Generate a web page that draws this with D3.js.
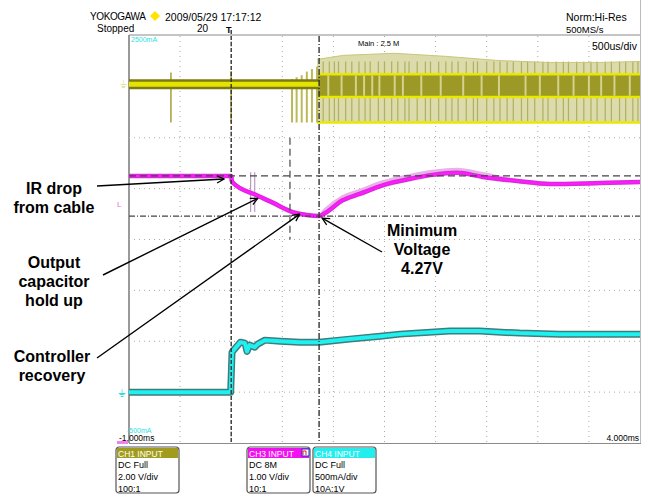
<!DOCTYPE html>
<html>
<head>
<meta charset="utf-8">
<script src="https://cdn.jsdelivr.net/npm/d3@7/dist/d3.min.js"></script>
<style>
body{margin:0;background:#fff;}
svg{display:block;font-family:"Liberation Sans",Arial,sans-serif;}
</style>
</head>
<body>
<svg id="chart" width="645" height="495"></svg>
<script>
// values (time in ms, volts, mA)
var ch1QuietTime = [-1, 0.57];
var ch1SpikeTime = [-0.59, 0.0];
var ch1SpikeHi = [0.47, 0.52];
var ch1SpikeLo = [-1.5, -1.5];
var ch1PulseTime = [0.595, 0.64, 0.69, 0.74, 0.79, 0.84];
var ch1PulseHi = [0.2, 0.28, 0.36, 0.5, 0.6, 0.7];
var ch1BurstTime = [0.84, 1.1, 1.6, 2.1, 2.6, 3.1, 3.6, 4.0];
var ch1BurstTop = [0.98, 1.14, 1.22, 1.10, 0.94, 0.86, 0.86, 0.9];
var ch1BurstLow = [-1.5, -1.5, -1.5, -1.5, -1.5, -1.5, -1.5, -1.5];
var ch1CoreTop = [0.4, 0.4, 0.4, 0.4, 0.4, 0.4, 0.4, 0.4];
var ch1CoreLow = [-0.5, -0.5, -0.5, -0.5, -0.5, -0.5, -0.5, -0.5];
var ch1DarkStripes = [0.9, 0.96, 1.01, 1.05, 1.12, 1.18, 1.25, 1.31, 1.36, 1.44, 1.5, 1.57, 1.63, 1.7, 1.74, 1.82, 1.9, 1.95, 2.03, 2.1, 2.16, 2.22, 2.3, 2.37, 2.41, 2.5, 2.57, 2.63, 2.7, 2.76, 2.84, 2.9, 2.97, 3.05, 3.1, 3.18, 3.25, 3.3, 3.38, 3.45, 3.52, 3.58, 3.66, 3.72, 3.8, 3.86, 3.93, 3.98];
var ch1LightStripes = [0.95, 1.08, 1.22, 1.3, 1.38, 1.45, 1.6, 1.68, 1.86, 2.05, 2.27, 2.45, 2.62, 2.88, 3.02, 3.2, 3.35, 3.5, 3.62, 3.75, 3.9];

var ch3Time = [-1, -0.5, 0, 0.006, 0.02, 0.25, 0.41, 0.6, 0.74, 0.86, 0.92, 1.09, 1.25, 1.49, 1.75, 1.97, 2.21, 2.46, 2.8, 3.12, 3.61, 4.0];
var ch3Volt = [5.06, 5.06, 5.06, 4.96, 4.92, 4.68, 4.53, 4.35, 4.29, 4.27, 4.33, 4.58, 4.70, 4.88, 5.0, 5.08, 5.12, 5.04, 4.96, 4.90, 4.92, 4.94];
var ch3GlitchTime = [0.19, 0.23];

var ch4Time = [-1, -0.5, -0.005, 0.008, 0.04, 0.09, 0.135, 0.155, 0.18, 0.23, 0.26, 0.33, 0.48, 0.67, 0.86, 1.16, 1.46, 1.65, 2.14, 2.43, 2.82, 3.21, 3.6, 4.0];
var ch4Milli = [0, 0, 0, 393, 432, 491, 481, 400, 462, 442, 472, 511, 501, 491, 491, 521, 550, 570, 600, 600, 580, 570, 570, 570];

var cursorTime = [0, 0.86];
var cursorVolt = [5.06, 4.27];
var xTickLabels = ["-1.000ms", "4.000ms"];

var boxTitles = ["CH1 INPUT", "CH3 INPUT", "CH4 INPUT"];
var boxCoupling = ["DC Full", "DC 8M", "DC Full"];
var boxScale = ["2.00 V/div", "1.00 V/div", "500mA/div"];
var boxProbe = ["100:1", "10:1", "10A:1V"];

var svg = d3.select("#chart");
var pL = 129, pR = 640, pT = 36, pB = 443;

var x = d3.scaleLinear().domain([-1, 4]).range([pL, pR]);
var yDiv = d3.scaleLinear().domain([-4, 4]).range([pB, pT]);
var y1 = d3.scaleLinear().domain([-14.1, 1.9]).range([pB, pT]);
var y3 = d3.scaleLinear().domain([-0.19, 7.81]).range([pB, pT]);
var y4 = d3.scaleLinear().domain([-500, 3500]).range([pB, pT]);

var defs = svg.append("defs");
defs.append("marker").attr("id", "arr").attr("viewBox", "0 0 10 10")
  .attr("refX", 9).attr("refY", 5).attr("markerWidth", 9).attr("markerHeight", 9)
  .attr("markerUnits", "userSpaceOnUse").attr("orient", "auto")
  .append("path").attr("d", "M1,1 L9,5 L1,9").attr("fill", "none")
  .attr("stroke", "#000").attr("stroke-width", 1.4);
defs.append("clipPath").attr("id", "plot").append("rect")
  .attr("x", pL).attr("y", pT).attr("width", pR - pL).attr("height", pB - pT);

// frame
svg.append("line").attr("x1", pL).attr("x2", pR + 1).attr("y1", 35).attr("y2", 35).attr("stroke", "#8a8a8a");
svg.append("line").attr("x1", pL).attr("x2", pR + 1).attr("y1", pB + 0.5).attr("y2", pB + 0.5).attr("stroke", "#8a8a8a");
svg.append("line").attr("x1", pR + 0.5).attr("x2", pR + 0.5).attr("y1", 0).attr("y2", pB).attr("stroke", "#bbb");
svg.append("line").attr("x1", pL).attr("x2", pL).attr("y1", 35).attr("y2", pB).attr("stroke", "#999").attr("stroke-width", 2);

// grid
var grid = svg.append("g");
grid.selectAll(".gv").data(d3.range(-0.5, 4, 0.5)).enter().append("line")
  .attr("x1", function(d){ return x(d); }).attr("x2", function(d){ return x(d); })
  .attr("y1", pT).attr("y2", pB)
  .attr("stroke", "#aaa").attr("stroke-dasharray", "1,4");
grid.selectAll(".gh").data(d3.range(-3, 4, 1)).enter().append("line")
  .attr("x1", pL).attr("x2", pR)
  .attr("y1", function(d){ return yDiv(d); }).attr("y2", function(d){ return yDiv(d); })
  .attr("stroke", "#aaa").attr("stroke-dasharray", "1,4");

var plot = svg.append("g").attr("clip-path", "url(#plot)");

// CH1 (yellow)
var burst = ch1BurstTime.map(function(t, i){
  return {t: t, top: ch1BurstTop[i], low: ch1BurstLow[i], ct: ch1CoreTop[i], cl: ch1CoreLow[i]};
});
plot.append("path").datum(burst)
  .attr("d", d3.area().x(function(d){ return x(d.t); }).y0(function(d){ return y1(d.low); }).y1(function(d){ return y1(d.top); }))
  .attr("fill", "#dcdbab");
plot.selectAll(".ds").data(ch1DarkStripes).enter().append("line")
  .attr("x1", function(d){ return x(d); }).attr("x2", function(d){ return x(d); })
  .attr("y1", y1(0.9)).attr("y2", y1(-1.45))
  .attr("stroke", "#a3a148").attr("stroke-width", 1.2).attr("opacity", 0.75);
plot.append("path").datum(burst)
  .attr("d", d3.area().x(function(d){ return x(d.t); }).y0(function(d){ return y1(d.cl); }).y1(function(d){ return y1(d.ct); }))
  .attr("fill", "#9c9926");
plot.selectAll(".ls").data(ch1LightStripes).enter().append("line")
  .attr("x1", function(d){ return x(d); }).attr("x2", function(d){ return x(d); })
  .attr("y1", y1(0.35)).attr("y2", y1(-0.45))
  .attr("stroke", "#d4d28c").attr("stroke-width", 2);
[ch1CoreTop, ch1CoreLow, ch1BurstLow].forEach(function(arr){
  plot.append("path").datum(burst.map(function(d, i){ return [d.t, arr[i]]; }))
    .attr("d", d3.line().x(function(d){ return x(d[0]); }).y(function(d){ return y1(d[1]); }))
    .attr("fill", "none").attr("stroke", "#e8e800").attr("stroke-width", 2.5);
});
plot.append("path").datum(burst)
  .attr("d", d3.line().x(function(d){ return x(d.t); }).y(function(d){ return y1(d.top); }))
  .attr("fill", "none").attr("stroke", "#c9c77a").attr("stroke-width", 1);
plot.selectAll(".pu").data(ch1PulseTime).enter().append("line")
  .attr("x1", function(d){ return x(d); }).attr("x2", function(d){ return x(d); })
  .attr("y1", function(d, i){ return y1(ch1PulseHi[i]); }).attr("y2", y1(-1.5))
  .attr("stroke", "#bcba58").attr("stroke-width", 2);
plot.selectAll(".sp").data(ch1SpikeTime).enter().append("line")
  .attr("x1", function(d){ return x(d); }).attr("x2", function(d){ return x(d); })
  .attr("y1", function(d, i){ return y1(ch1SpikeHi[i]); }).attr("y2", function(d, i){ return y1(ch1SpikeLo[i]); })
  .attr("stroke", "#a9a740").attr("stroke-width", 1.6);
var quiet = d3.line().x(function(d){ return x(d); }).y(y1(0));
plot.append("path").attr("d", quiet(ch1QuietTime.concat([0.86])))
  .attr("stroke", "#7c7a12").attr("stroke-width", 10).attr("fill", "none");
plot.append("path").attr("d", quiet(ch1QuietTime.concat([0.86])))
  .attr("stroke", "#e4e400").attr("stroke-width", 5).attr("fill", "none");

// CH4 (cyan)
var ch4 = d3.line().x(function(d, i){ return x(ch4Time[i]); }).y(function(d){ return y4(d); });
plot.append("path").attr("d", ch4(ch4Milli)).attr("fill", "none")
  .attr("stroke", "#3f7c7c").attr("stroke-width", 7).attr("stroke-linejoin", "round");
plot.append("path").attr("d", ch4(ch4Milli)).attr("fill", "none")
  .attr("stroke", "#1ff0f0").attr("stroke-width", 4).attr("stroke-linejoin", "round");

// CH3 (magenta)
var ch3 = d3.line().x(function(d, i){ return x(ch3Time[i]); }).y(function(d){ return y3(d); }).curve(d3.curveMonotoneX);
plot.selectAll(".gl").data(ch3GlitchTime).enter().append("line")
  .attr("x1", function(d){ return x(d); }).attr("x2", function(d){ return x(d); })
  .attr("y1", y3(5.13)).attr("y2", y3(4.35))
  .attr("stroke", "#b79cc0").attr("stroke-width", 1.2);
var noisy = ch3Volt.map(function(v, i){ return (ch3Time[i] > 0.9 && ch3Time[i] < 2.5) ? v + 0.06 : v; });
plot.append("path").attr("d", ch3(noisy)).attr("fill", "none")
  .attr("stroke", "#eab0ea").attr("stroke-width", 4);
plot.append("path").attr("d", ch3(ch3Volt)).attr("fill", "none")
  .attr("stroke", "#d82ad8").attr("stroke-width", 4.5);
plot.append("path").attr("d", ch3(ch3Volt)).attr("fill", "none")
  .attr("stroke", "#ff1aff").attr("stroke-width", 2.2);

// cursors
plot.append("line").attr("x1", pL).attr("x2", pR).attr("y1", y3(cursorVolt[0])).attr("y2", y3(cursorVolt[0]))
  .attr("stroke", "#444").attr("stroke-width", 1.3).attr("stroke-dasharray", "7,4");
plot.append("line").attr("x1", pL).attr("x2", pR).attr("y1", y3(cursorVolt[1])).attr("y2", y3(cursorVolt[1]))
  .attr("stroke", "#444").attr("stroke-width", 1.3).attr("stroke-dasharray", "6,2,1,2");
svg.append("line").attr("x1", x(cursorTime[0])).attr("x2", x(cursorTime[0])).attr("y1", 30).attr("y2", pB)
  .attr("stroke", "#333").attr("stroke-width", 1.4).attr("stroke-dasharray", "4,2");
svg.append("line").attr("x1", x(cursorTime[1])).attr("x2", x(cursorTime[1])).attr("y1", pT).attr("y2", pB)
  .attr("stroke", "#333").attr("stroke-width", 1.4).attr("stroke-dasharray", "6,2,1,2");
svg.append("line").attr("x1", x(0.575)).attr("x2", x(0.575)).attr("y1", yDiv(2)).attr("y2", yDiv(0))
  .attr("stroke", "#555").attr("stroke-width", 1.3).attr("stroke-dasharray", "7,4");

// channel markers on the left
svg.append("text").attr("x", 120).attr("y", y1(0) + 4).attr("font-size", 10).attr("fill", "#e4e49a").text("⏚");
svg.append("text").attr("x", 117).attr("y", y3(4.27) - 9).attr("font-size", 8).attr("fill", "#e070e0").text("L");
svg.append("text").attr("x", 118).attr("y", y4(0) + 5).attr("font-size", 11).attr("fill", "#33dddd").text("⏚");
svg.append("rect").attr("x", 117).attr("y", pB - 2).attr("width", 11).attr("height", 3).attr("fill", "#f080f0");

// scope header
svg.append("text").attr("x", 90).attr("y", 20).attr("font-size", 10).attr("letter-spacing", -0.4).text("YOKOGAWA");
svg.append("path").attr("d", "M155,11 L160,16 L155,21 L150,16 Z").attr("fill", "#ffe400");
svg.append("text").attr("x", 165).attr("y", 21).attr("font-size", 10.5).text("2009/05/29 17:17:12");
svg.append("text").attr("x", 97).attr("y", 32).attr("font-size", 10).text("Stopped");
svg.append("text").attr("x", 197).attr("y", 32).attr("font-size", 10).text("20");
svg.append("text").attr("x", 226).attr("y", 33).attr("font-size", 9).attr("font-weight", "bold").text("T");
svg.append("text").attr("x", 566).attr("y", 21).attr("font-size", 10.5).text("Norm:Hi-Res");
svg.append("text").attr("x", 566).attr("y", 33).attr("font-size", 9.5).text("500MS/s");
svg.append("text").attr("x", 358).attr("y", 46).attr("font-size", 7.5).text("Main : 2.5 M");
svg.append("text").attr("x", 592).attr("y", 50).attr("font-size", 10.5).text("500us/div");
svg.append("text").attr("x", 131).attr("y", 42).attr("font-size", 7).attr("fill", "#2de0e0").text("2500mA");
svg.append("text").attr("x", 127).attr("y", 433).attr("font-size", 7).attr("fill", "#2de0e0").text("-500mA");
svg.append("text").attr("x", 119).attr("y", 441).attr("font-size", 8.5).text(xTickLabels[0]);
svg.append("text").attr("x", 639).attr("y", 441).attr("font-size", 8.5).attr("text-anchor", "end").text(xTickLabels[1]);

// channel boxes
var boxX = [116, 247, 313];
var boxFill = ["#a29c1e", "#f010f0", "#22eeee"];
var boxes = svg.selectAll(".box").data(boxTitles).enter().append("g")
  .attr("transform", function(d, i){ return "translate(" + boxX[i] + ",447)"; });
boxes.append("rect").attr("width", 63).attr("height", 46).attr("rx", 3)
  .attr("fill", "#fff").attr("stroke", "#555").attr("stroke-width", 1.2);
boxes.append("rect").attr("x", 1).attr("y", 1).attr("width", 61).attr("height", 10)
  .attr("fill", function(d, i){ return boxFill[i]; });
boxes.append("text").attr("x", 2).attr("y", 9.5).attr("font-size", 8.5).attr("fill", "#fff").text(function(d){ return d; });
boxes.append("text").attr("x", 2).attr("y", 21).attr("font-size", 9).text(function(d, i){ return boxCoupling[i]; });
boxes.append("text").attr("x", 2).attr("y", 33).attr("font-size", 9).text(function(d, i){ return boxScale[i]; });
boxes.append("text").attr("x", 2).attr("y", 44.5).attr("font-size", 9).text(function(d, i){ return boxProbe[i]; });
svg.append("rect").attr("x", 302).attr("y", 449).attr("width", 7).attr("height", 7).attr("fill", "#fff").attr("stroke", "#2233cc");
svg.append("path").attr("d", "M303,455 L303,451 L306,451 L306,455").attr("fill", "none").attr("stroke", "#dd2222");

// annotations
var note = svg.append("g").attr("font-size", 16).attr("font-weight", "bold").attr("text-anchor", "middle");
function label(lines, cx, y0){
  lines.forEach(function(s, i){ note.append("text").attr("x", cx).attr("y", y0 + i * 19).text(s); });
}
label(["IR drop", "from cable"], 54, 194);
label(["Output", "capacitor", "hold up"], 54, 268);
label(["Controller", "recovery"], 52, 362);
label(["Minimum", "Voltage", "4.27V"], 422, 236);

function arrow(x0, y0, tx, ty){
  svg.append("line").attr("x1", x0).attr("y1", y0).attr("x2", tx).attr("y2", ty)
    .attr("stroke", "#000").attr("stroke-width", 1.4).attr("marker-end", "url(#arr)");
}
arrow(97, 186, x(-0.07), y3(5.0));
arrow(103, 275, x(0.26), y3(4.62));
arrow(97, 358, x(0.67), y3(4.31));
arrow(382, 252, x(0.89), y3(4.23));
</script>
</body>
</html>
